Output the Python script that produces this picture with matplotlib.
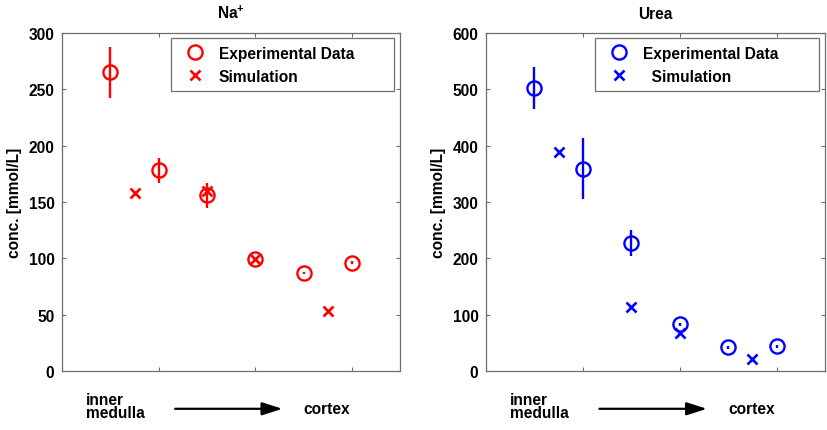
import matplotlib
matplotlib.use("Agg")
import matplotlib.pyplot as plt
from matplotlib.transforms import blended_transform_factory

plt.rcParams['font.family'] = ['Liberation Sans', 'DejaVu Sans']
plt.rcParams['font.weight'] = 'bold'
plt.rcParams['font.size'] = 11.2
plt.rcParams['mathtext.fontset'] = 'custom'
plt.rcParams['mathtext.bf'] = 'Liberation Sans:bold'
plt.rcParams['mathtext.rm'] = 'Liberation Sans:bold'
plt.rcParams['mathtext.default'] = 'bf'

FS = 11.2

# positions along the nephron (inner medulla -> cortex)
exp_x = [0.5, 1.0, 1.5, 2.0, 2.5, 3.0]
sim_x = [0.75, 1.5, 2.0, 2.75]

# Na+ (mmol/L)
na_exp = [265, 178, 156, 99, 87, 96]
na_err = [23, 11, 11, 1.2, 1.2, 1.2]
na_sim = [158, 160, 99, 53]

# urea (mmol/L)
urea_exp = [502, 359, 227, 83, 42, 44]
urea_err = [37, 54, 23, 2.5, 2.5, 2.5]
urea_sim = [389, 114, 67, 21]

panels = [
    (r'$\mathbf{Na^{+}}$', na_exp, na_err, na_sim, 'red', 300, [0, 50, 100, 150, 200, 250, 300], 'Simulation'),
    ('Urea', urea_exp, urea_err, urea_sim, 'blue', 600, [0, 100, 200, 300, 400, 500, 600], '  Simulation'),
]

fig = plt.figure(figsize=(8.27, 4.31), dpi=100)
axes_rects = [[0.075, 0.137, 0.409, 0.784], [0.5877, 0.137, 0.41, 0.784]]
spine_col = '#6e6e6e'

for rect, (title, ex, err, sim, col, ymax, yt, simlabel) in zip(axes_rects, panels):
    ax = fig.add_axes(rect)
    ax.errorbar(exp_x, ex, yerr=err, fmt='none', ecolor=col, elinewidth=1.7, capsize=0)
    ax.plot(exp_x, ex, 'o', ms=10.2, mfc='none', mec=col, mew=1.7, label='Experimental Data')
    ax.plot(sim_x, sim, 'x', ms=7.5, mec=col, mew=1.9, label=simlabel)
    ax.set_xlim(0, 3.5)
    ax.set_ylim(0, ymax)
    ax.set_xticks([0, 1, 2, 3])
    ax.set_xticklabels([])
    ax.set_yticks(yt)
    ax.tick_params(direction='in', length=3, width=0.8, color=spine_col, top=True, right=True,
                   pad=5.5, labelsize=FS)
    for s in ax.spines.values():
        s.set_color(spine_col)
        s.set_linewidth(0.9)
    ax.set_title(title, fontsize=FS, fontweight='bold', pad=11)
    ax.set_ylabel('conc. [mmol/L]', fontsize=FS, fontweight='bold', labelpad=5)
    leg = ax.legend(loc='upper left', bbox_to_anchor=(0.3225, 0.0, 0.66, 0.985), mode='expand',
                    borderaxespad=0, fancybox=False, edgecolor=spine_col, framealpha=1,
                    handlelength=2.1, handletextpad=0.45, borderpad=0.5, labelspacing=0.5,
                    fontsize=FS)
    leg.get_frame().set_linewidth(0.9)

    tr = blended_transform_factory(ax.transData, ax.transAxes)
    ax.text(0.25, -0.104, 'inner\nmedulla', transform=tr, ha='left', va='center',
            fontsize=FS, fontweight='bold', linespacing=0.88)
    ax.annotate('', xy=(2.28, -0.112), xytext=(1.17, -0.112), xycoords=tr, textcoords=tr,
                arrowprops=dict(arrowstyle='-|>,head_length=1.1,head_width=0.35', color='black', lw=1.6,
                                shrinkA=0, shrinkB=0))
    ax.text(2.5, -0.112, 'cortex', transform=tr, ha='left', va='center',
            fontsize=FS, fontweight='bold')

fig.savefig('out.png', dpi=100)
